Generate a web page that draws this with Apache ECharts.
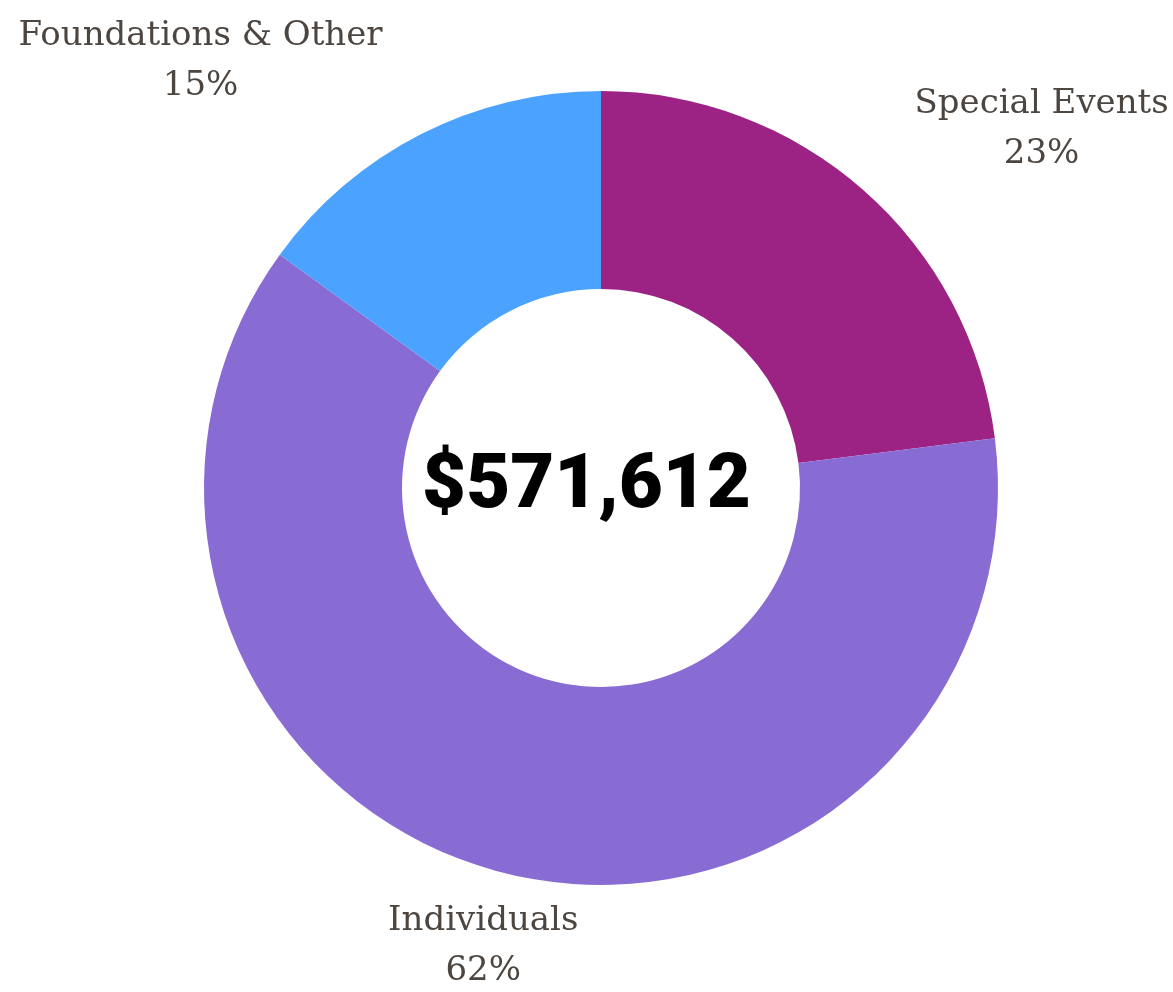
<!DOCTYPE html>
<html>
<head>
<meta charset="utf-8">
<script src="https://cdn.jsdelivr.net/npm/echarts@6/dist/echarts.min.js"></script>
<style>
    html, body { margin: 0; padding: 0; background: #fff; }
    #chart { width: 1173px; height: 992px; }
</style>
</head>
<body>
<div id="chart"></div>
<script>
    // revenue sources, share of total (percent)
    const categories = ['Special Events', 'Individuals', 'Foundations & Other'];
    const shares = [23, 62, 15];
    const colors = ['#9c2384', '#896cd3', '#4ba3ff'];
    const totalLabel = '$571,612';

    // where each label block sits, as fractions of the chart box
    const labelSpots = [[0.888, 0.130], [0.412, 0.954], [0.171, 0.062]];

    let chartDom = document.getElementById('chart');
    let myChart = echarts.init(chartDom);
    let W = chartDom.clientWidth, H = chartDom.clientHeight;

    let option = {
        animation: false,
        graphic: [
            {
                type: 'text',
                x: W * 0.5,
                y: 488,
                style: {
                    text: totalLabel,
                    fontFamily: 'Roboto',
                    fontWeight: 900,
                    fontSize: 76,
                    fill: '#000',
                    align: 'center',
                    verticalAlign: 'middle'
                }
            }
        ],
        series: [
            {
                type: 'pie',
                center: [601, 488],
                radius: [199, 397],
                startAngle: 90,
                clockwise: true,
                data: categories.map((name, i) => ({
                    name: name,
                    value: shares[i],
                    itemStyle: { color: colors[i] }
                })),
                label: {
                    show: true,
                    position: 'outside',
                    formatter: '{b}\n{d}%',
                    fontFamily: 'DejaVu Serif',
                    fontSize: 34,
                    lineHeight: 50,
                    color: '#4d4540',
                    align: 'center'
                },
                labelLine: { show: false },
                labelLayout: function (params) {
                    let spot = labelSpots[params.dataIndex];
                    return {
                        x: W * spot[0],
                        y: H * spot[1],
                        align: 'center',
                        verticalAlign: 'middle'
                    };
                },
                emphasis: { disabled: true }
            }
        ]
    };

    myChart.setOption(option);
</script>
</body>
</html>
